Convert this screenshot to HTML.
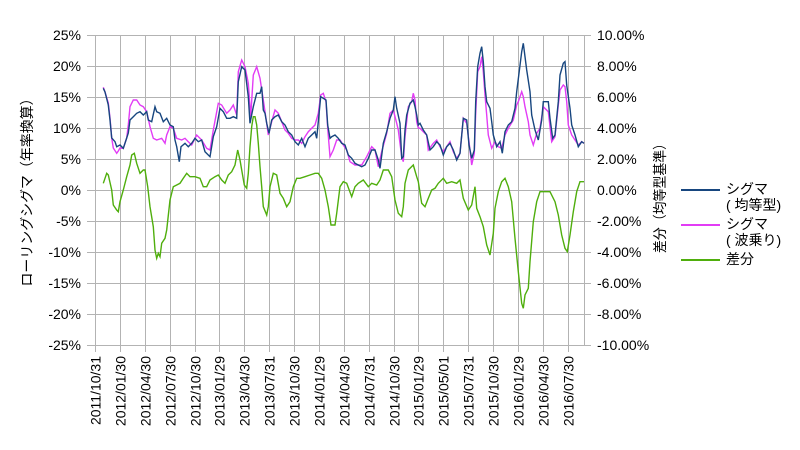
<!DOCTYPE html>
<html><head><meta charset="utf-8"><style>
html,body{margin:0;padding:0;background:#fff;}
svg{display:block;}
text{font-family:"Liberation Sans","Noto Sans CJK JP",sans-serif;font-size:14px;fill:#000;}
</style></head><body>
<svg width="800" height="450" viewBox="0 0 800 450" xmlns="http://www.w3.org/2000/svg">
<rect width="800" height="450" fill="#fff"/>
<g stroke="#b3b3b3" stroke-width="1" fill="none" shape-rendering="crispEdges">
<line x1="87" y1="35.5" x2="591" y2="35.5"/>
<line x1="87" y1="66.5" x2="591" y2="66.5"/>
<line x1="87" y1="97.5" x2="591" y2="97.5"/>
<line x1="87" y1="128.5" x2="591" y2="128.5"/>
<line x1="87" y1="159.5" x2="591" y2="159.5"/>
<line x1="87" y1="190.5" x2="591" y2="190.5"/>
<line x1="87" y1="221.5" x2="591" y2="221.5"/>
<line x1="87" y1="252.5" x2="591" y2="252.5"/>
<line x1="87" y1="283.5" x2="591" y2="283.5"/>
<line x1="87" y1="314.5" x2="591" y2="314.5"/>
<line x1="87" y1="345.5" x2="591" y2="345.5"/>
<line x1="95.5" y1="35" x2="95.5" y2="352"/>
<line x1="120.5" y1="35" x2="120.5" y2="352"/>
<line x1="145.5" y1="35" x2="145.5" y2="352"/>
<line x1="170.5" y1="35" x2="170.5" y2="352"/>
<line x1="195.5" y1="35" x2="195.5" y2="352"/>
<line x1="219.5" y1="35" x2="219.5" y2="352"/>
<line x1="244.5" y1="35" x2="244.5" y2="352"/>
<line x1="269.5" y1="35" x2="269.5" y2="352"/>
<line x1="294.5" y1="35" x2="294.5" y2="352"/>
<line x1="319.5" y1="35" x2="319.5" y2="352"/>
<line x1="344.5" y1="35" x2="344.5" y2="352"/>
<line x1="369.5" y1="35" x2="369.5" y2="352"/>
<line x1="394.5" y1="35" x2="394.5" y2="352"/>
<line x1="418.5" y1="35" x2="418.5" y2="352"/>
<line x1="443.5" y1="35" x2="443.5" y2="352"/>
<line x1="468.5" y1="35" x2="468.5" y2="352"/>
<line x1="493.5" y1="35" x2="493.5" y2="352"/>
<line x1="518.5" y1="35" x2="518.5" y2="352"/>
<line x1="543.5" y1="35" x2="543.5" y2="352"/>
<line x1="568.5" y1="35" x2="568.5" y2="352"/>
<line x1="584.5" y1="35" x2="584.5" y2="345"/>
</g>

<g text-anchor="end">
<text x="81" y="40">25%</text>
<text x="81" y="71">20%</text>
<text x="81" y="102">15%</text>
<text x="81" y="133">10%</text>
<text x="81" y="164">5%</text>
<text x="81" y="195">0%</text>
<text x="81" y="226">-5%</text>
<text x="81" y="257">-10%</text>
<text x="81" y="288">-15%</text>
<text x="81" y="319">-20%</text>
<text x="81" y="350">-25%</text>
</g>
<g>
<text x="597" y="40">10.00%</text>
<text x="597" y="71">8.00%</text>
<text x="597" y="102">6.00%</text>
<text x="597" y="133">4.00%</text>
<text x="597" y="164">2.00%</text>
<text x="597" y="195">0.00%</text>
<text x="597" y="226">-2.00%</text>
<text x="597" y="257">-4.00%</text>
<text x="597" y="288">-6.00%</text>
<text x="597" y="319">-8.00%</text>
<text x="597" y="350">-10.00%</text>
</g>

<g text-anchor="end">
<text transform="translate(100.5,356) rotate(-90)">2011/10/31</text>
<text transform="translate(125.5,356) rotate(-90)">2012/01/30</text>
<text transform="translate(150.5,356) rotate(-90)">2012/04/30</text>
<text transform="translate(175.5,356) rotate(-90)">2012/07/30</text>
<text transform="translate(200.5,356) rotate(-90)">2012/10/30</text>
<text transform="translate(224.5,356) rotate(-90)">2013/01/29</text>
<text transform="translate(249.5,356) rotate(-90)">2013/04/30</text>
<text transform="translate(274.5,356) rotate(-90)">2013/07/31</text>
<text transform="translate(299.5,356) rotate(-90)">2013/10/30</text>
<text transform="translate(324.5,356) rotate(-90)">2014/01/29</text>
<text transform="translate(349.5,356) rotate(-90)">2014/04/30</text>
<text transform="translate(374.5,356) rotate(-90)">2014/07/31</text>
<text transform="translate(399.5,356) rotate(-90)">2014/10/30</text>
<text transform="translate(423.5,356) rotate(-90)">2015/01/29</text>
<text transform="translate(448.5,356) rotate(-90)">2015/05/01</text>
<text transform="translate(473.5,356) rotate(-90)">2015/07/31</text>
<text transform="translate(498.5,356) rotate(-90)">2015/10/30</text>
<text transform="translate(523.5,356) rotate(-90)">2016/01/29</text>
<text transform="translate(548.5,356) rotate(-90)">2016/04/30</text>
<text transform="translate(573.5,356) rotate(-90)">2016/07/30</text>
</g>

<text transform="translate(32,189) rotate(-90)" text-anchor="middle" textLength="195" lengthAdjust="spacingAndGlyphs">ローリングシグマ（年率換算）</text>
<text transform="translate(665,195) rotate(-90)" text-anchor="middle" textLength="116" lengthAdjust="spacingAndGlyphs">差分（均等型基準）</text>

<g fill="none" stroke-width="1.4" stroke-linejoin="miter">
<polyline stroke="#4fae0c" points="103.3,183.3 106.7,173.3 108.3,175 111.7,190 113.3,205 116.7,210 118.3,211.7 120,201.7 123.3,190 126.7,176.7 130,165 131.7,155 134.3,153.3 136.7,163.3 140,173.3 143.3,170 145,170 147.7,186.7 150,206.7 153.3,226.7 155,250 156.7,258.3 158.3,253.3 160,256.7 161.7,243.3 165,238.3 166.7,230 170,200 173.3,186.7 176.7,185 180,183.3 183.3,178.3 186.7,173.3 190,176.7 195,176.7 200,178.3 203.3,186.7 206.7,186.7 210,180 215,176.7 218.3,175 221.7,180 225,183.3 228.3,175 231.7,171.7 235,165 237.7,150 240,160 241.7,170 244.3,185 246.7,188.3 248.3,173.3 250,146.7 251.7,126.7 253.3,116.7 255,116.7 256.7,125 258.3,143.3 260,166.7 261.7,186.7 263.3,206.7 266.7,215 268.3,206.7 270,186.7 273.3,173.3 276.7,175 280,193.3 283.3,198.3 286.7,206.7 290,201.7 293.3,186.7 296.7,178.3 300,178.3 305,176.7 310,175 315,173.3 318.3,173.3 321.7,178.3 325,190 328.3,206.7 331,225 335,225 336.7,213.3 340,186.7 343.3,181.7 346.7,183.3 351.7,196.7 355,186.7 358.3,183.3 363.3,180 368.3,186.7 371.7,183.3 376.7,185 380,180 383.3,170 388.3,170 391.7,176.7 395,200 398.3,213.3 401.7,216.7 403.3,206.7 405,183.3 408.3,170 413.3,165 416.7,176.7 418.3,181.7 421.7,203.3 425,206.7 428.3,198.3 431.7,190 435,188.3 438.3,183.3 443.3,178.3 446.7,183.3 451.7,181.7 456.7,183.3 460,180 463.3,198.3 468.3,210 471.7,205 475,186.7 476.7,208.3 480,216.7 483.3,226.7 486.7,245 490,255 493.3,233.3 495,208.3 498.3,191.7 501.7,181.7 505,178.3 508.3,186.7 511.7,201.7 515,238.3 518.3,271.7 521.7,303.3 523.3,308.3 525,295 528.3,288.3 530,261.7 533.3,221.7 536.7,201.7 540,191.7 545,191.7 550,191.7 555,201.7 558.3,215 561.7,235 565,248.3 567.3,251.7 570,235 573.3,211.7 576.7,191.7 580,181.7 584,181.7"/>
<polyline stroke="#e23cf5" points="103.3,87.3 105,92 108.3,103 110,118 111.7,138 113.3,148 116.7,153.3 118.3,151 120,148 123.3,148.3 126.7,138 128.3,125 130,106.7 133.3,100 136.7,100 140,105 143.3,106.7 146.7,111.7 150,126.7 153.3,138.3 156.7,140 161.7,138.3 165,143.3 166.7,135 170,126.7 173.3,128.3 176.7,138.3 181.7,140 185,138.3 188.3,141.7 191.7,145 196.7,135 201.7,140 206.7,148.3 210,150 213.3,130 218.3,103.3 221.7,105 226.7,113.3 230,110 233.3,105 236.7,115 238.3,71.7 241.7,60 245,66.7 248.3,83.3 250.7,116.7 253.3,75 256.7,66.7 260,78.3 263.3,100 266.7,123.3 268.3,135 271.7,121.7 275,110 278.3,113.3 281.7,121.7 285,130 288.3,133.3 291.7,138.3 295,140 298.3,140 301.7,143.3 305,136.7 308.3,131.7 311.7,128.3 315,125 318.3,113.3 320.7,95 323.3,93.3 326,101.7 327.7,128.3 330,156.7 333.3,150 336.7,140 340,140 343.3,145 346.7,150 350,161.7 355,165 361.7,165 366.7,156.7 371.7,146.7 375,150 378.3,166.7 381.7,151.7 386.7,133.3 390,113.3 393.3,110 396.7,123.3 398.3,130 401.7,156.7 403.3,161.7 405,136.7 408.3,106.7 411.7,101.7 413.3,93.3 415,100 416.7,121.7 418.3,128 420,128.3 423.3,131.7 426.7,135 428.3,150 433.3,143.3 436.7,140 440,146.7 443.3,151.7 446.7,146.7 450,141.7 453.3,151.7 456.7,158.3 460,153.3 463.3,118.3 466.7,123.3 470,150 471.7,165 474.3,153.3 475.7,113.3 477.7,71.7 480,66.7 481.7,56.7 483.3,71.7 485,95 486.7,115 488.3,135 491.7,148.3 495,141.7 498.3,146.7 501.7,148.3 505,135 508.3,128.3 513.3,120 516.7,105 518.3,101.7 521.7,91.7 523.3,96.7 525,106.7 528.3,121.7 530,135 533.3,145 536.7,133.3 540,128.3 543.3,106.7 548.3,111.7 551.7,141.7 555,136.7 558.3,105 560,90 563.3,85 565,86.7 566.7,101.7 568.3,125 571.7,135 575,140 578.3,145 581.7,141.7 584,143.3"/>
<polyline stroke="#17467f" points="103.3,88.3 105,92 108.3,105 110,120 111.7,138 115,141.7 116.7,146.7 120,145 123.3,148.3 126.7,138 128.3,133 130,120 133.3,116.7 136.7,113.3 140,111.7 143.3,115 146.7,111.7 148.3,120 151.7,121.7 155,106.7 156.7,111.7 160,113.3 163.3,121.7 166.7,118.3 170,125 173.3,126.7 175,140 176.7,146.7 179.3,161.7 181,146.7 185,143.3 188.3,146.7 191.7,143.3 195,138.3 198.3,141.7 201.7,140 205,151.7 210,156.7 213.3,136.7 216.7,126.7 220,108.3 223.3,111.7 226.7,118.3 230,118.3 233.3,116.7 236.7,118.3 238.3,81.7 241.7,66.7 245,70 248.3,96.7 250,123.3 253.3,106.7 256.7,93.3 260,93.3 261.7,86.7 263.3,110 265,113.3 266.7,123.3 269,133.3 271.7,120 275,116.7 278.3,115 281.7,121.7 285,125 288.3,131.7 291.7,135 295,141.7 298.3,145 301.7,138.3 305,146.7 308.3,138.3 311.7,135 315,131.7 316.7,138.3 318.3,121.7 320.7,96.7 323.3,98.3 326,100 327.7,125 330,138.3 331.7,136.7 335,135 338.3,138.3 341.7,143.3 345,145 348.3,155 351.7,158.3 355,163.3 358.3,165 361.7,166.7 365,165 368.3,158.3 371.7,150 375,150 378.3,160 380,168.3 383.3,143.3 386.7,131.7 390,118.3 393.3,110 395,96.7 396.7,108.3 400,123.3 401.7,158.3 403.3,156.7 405,130 406.7,115 410,103.3 413.3,100 415,106.7 416.7,115 418.3,125 420,123.3 423.3,130 426.7,135 430,150 433.3,146.7 436.7,141.7 440,145 443.3,155 446.7,146.7 450,143.3 453.3,150 456.7,160 460,153.3 463.3,118.3 466.7,120 469,145 471.7,158.3 474.3,150 475.7,101.7 477.7,66.7 480,53.3 481.7,46.7 483.3,61.7 485,86.7 486.7,101.7 490,108.3 491.7,121.7 493.3,135 496.7,146.7 500,141.7 502.3,153.3 505,131.7 508.3,125 511.7,121.7 515,108.3 516.7,91.7 519,73.3 521.7,51.7 523.3,43.3 526.7,70 530,91.7 531.7,115 535,130 538.3,140 541.7,120 543.3,101.7 548.3,101.7 550,118.3 552.7,138.3 555,135 558.3,101.7 560,75 563.3,63.3 565,61.7 566.7,85 570,108.3 571.7,125 575,135 578.3,146.7 581.7,141.7 584,143.3"/>
</g>

<g stroke-width="2">
<line x1="681" y1="190" x2="720" y2="190" stroke="#17467f"/>
<line x1="681" y1="225" x2="720" y2="225" stroke="#e23cf5"/>
<line x1="681" y1="260" x2="720" y2="260" stroke="#4fae0c"/>
</g>
<text x="726" y="194">シグマ</text>
<text x="726" y="210">( 均等型)</text>
<text x="726" y="229">シグマ</text>
<text x="726" y="245">( 波乗り)</text>
<text x="726" y="264">差分</text>
</svg>
</body></html>
